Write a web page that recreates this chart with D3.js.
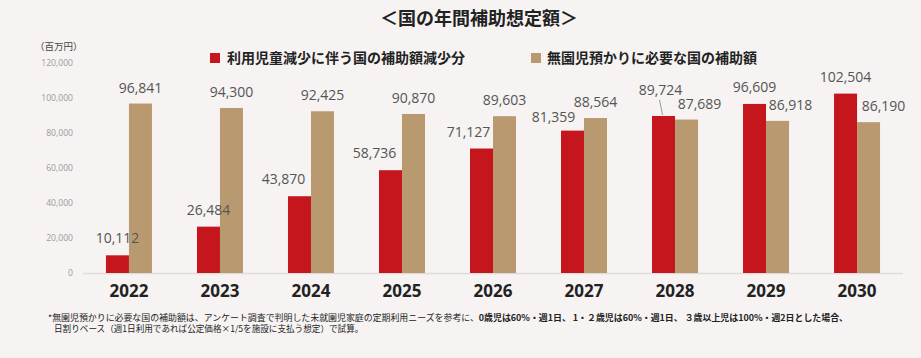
<!DOCTYPE html>
<html><head><meta charset="utf-8">
<script src="https://cdn.jsdelivr.net/npm/d3@7/dist/d3.min.js"></script>
<style>
html,body{margin:0;padding:0;background:#f6f3f2;}
svg{display:block;font-family:"Noto Sans CJK JP","Noto Sans",sans-serif;}
</style></head>
<body>
<svg id="chart" width="921" height="358"></svg>
<script>
const years = ["2022","2023","2024","2025","2026","2027","2028","2029","2030"];
const reduction = [10112, 26484, 43870, 58736, 71127, 81359, 89724, 96609, 102504];
const childcare = [96841, 94300, 92425, 90870, 89603, 88564, 87689, 86918, 86190];
const yTicks = [0, 20000, 40000, 60000, 80000, 100000, 120000];
const seriesNames = ["利用児童減少に伴う国の補助額減少分", "無園児預かりに必要な国の補助額"];
const title = "＜国の年間補助想定額＞";
const unitLabel = "（百万円）";

// label nudges (style, not data)
const redDx = [0, 0, -16, -16, -13, -19, -3, 0, 0];
const redDy = [0, 0, 0, 0, 0, 3, -9, 0, 0];
const tanDx = [0, 0, 0, 0, 0, 0, 13, 13, 15];

const colors = ["#c4161c", "#b99a70"];
const svg = d3.select("#chart");

const y = d3.scaleLinear().domain([0, 120000]).range([273, 63]);
const x = d3.scaleBand().domain(years).range([83, 903]).paddingInner(0.49).paddingOuter(0.25);
const bw = 23;

// title
svg.append("text").attr("x", 479).attr("y", 25).attr("text-anchor", "middle")
  .attr("font-size", 18).attr("font-weight", 700).attr("fill", "#222").text(title);

// unit
svg.append("text").attr("x", 35).attr("y", 50).attr("font-size", 9.5).attr("fill", "#444").text(unitLabel);

// y tick labels
svg.append("g").selectAll("text").data(yTicks).join("text")
  .attr("x", 73).attr("y", d => y(d) + 3)
  .attr("text-anchor", "end").attr("font-size", 8.6).attr("fill", "#9a9a9a")
  .attr("font-family", "'Open Sans',sans-serif")
  .text(d => d3.format(",")(d));

// baseline
svg.append("line").attr("x1", 83).attr("x2", 903).attr("y1", y(0) + 0.5).attr("y2", y(0) + 0.5)
  .attr("stroke", "#e0dcda").attr("stroke-width", 1.5);

// legend
const legend = [{x: 210, y: 53, c: colors[0], t: seriesNames[0], tx: 227},
                {x: 531, y: 53, c: colors[1], t: seriesNames[1], tx: 547}];
legend.forEach(l => {
  svg.append("rect").attr("x", l.x).attr("y", l.y).attr("width", 10).attr("height", 10).attr("fill", l.c);
  svg.append("text").attr("x", l.tx).attr("y", 63).attr("font-size", 14).attr("font-weight", 700)
    .attr("fill", "#222").text(l.t);
});

const cx = d => x(d) + x.bandwidth() / 2;

// bars
const g = svg.append("g");
g.selectAll("rect.red").data(years).join("rect").attr("class", "red")
  .attr("x", d => cx(d) - bw).attr("width", bw)
  .attr("y", (d, i) => y(reduction[i])).attr("height", (d, i) => y(0) - y(reduction[i]))
  .attr("fill", colors[0]);
g.selectAll("rect.tan").data(years).join("rect").attr("class", "tan")
  .attr("x", d => cx(d)).attr("width", bw)
  .attr("y", (d, i) => y(childcare[i])).attr("height", (d, i) => y(0) - y(childcare[i]))
  .attr("fill", colors[1]);

// value labels
const fmt = d3.format(",");
g.selectAll("text.rl").data(years).join("text").attr("class", "rl")
  .attr("x", (d, i) => cx(d) - bw / 2 + redDx[i])
  .attr("y", (d, i) => y(reduction[i]) - 12 + redDy[i])
  .attr("text-anchor", "middle").attr("font-size", 14).attr("fill", "#555")
  .attr("font-family", "'Open Sans',sans-serif")
  .text((d, i) => fmt(reduction[i]));
g.selectAll("text.tl").data(years).join("text").attr("class", "tl")
  .attr("x", (d, i) => cx(d) + bw / 2 + tanDx[i])
  .attr("y", (d, i) => y(childcare[i]) - 11)
  .attr("text-anchor", "middle").attr("font-size", 14).attr("fill", "#555")
  .attr("font-family", "'Open Sans',sans-serif")
  .text((d, i) => fmt(childcare[i]));

// leader line for 2028
const i28 = years.indexOf("2028");
g.append("line")
  .attr("x1", cx("2028") - bw / 2 - 4).attr("y1", y(reduction[i28]) - 16)
  .attr("x2", cx("2028") - bw / 2 - 1).attr("y2", y(reduction[i28]) - 1)
  .attr("stroke", "#999").attr("stroke-width", 1);

// year labels
g.selectAll("text.yr").data(years).join("text").attr("class", "yr")
  .attr("x", d => cx(d)).attr("y", 297)
  .attr("text-anchor", "middle").attr("font-size", 17).attr("font-weight", 700)
  .attr("fill", "#222").attr("font-family", "'Open Sans',sans-serif")
  .text(d => d);

// footnote
const fn1 = svg.append("text").attr("x", 48).attr("y", 321).attr("font-size", 8.6).attr("fill", "#222")
  .attr("textLength", 800).attr("lengthAdjust", "spacingAndGlyphs");
fn1.append("tspan").text("*無園児預かりに必要な国の補助額は、アンケート調査で判明した未就園児家庭の定期利用ニーズを参考に、");
fn1.append("tspan").attr("font-weight", 700).text("0歳児は60%・週1日、 1・２歳児は60%・週1日、 ３歳以上児は100%・週2日とした場合、");
svg.append("text").attr("x", 54).attr("y", 332).attr("font-size", 8.6).attr("fill", "#222")
  .text("日割りベース（週1日利用であれば公定価格×1/5を施設に支払う想定）で試算。");
</script>
</body></html>
